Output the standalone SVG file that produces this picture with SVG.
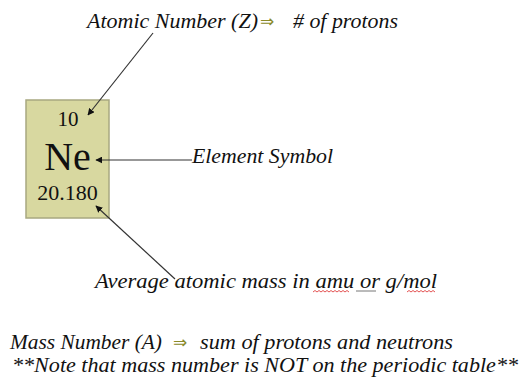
<svg xmlns="http://www.w3.org/2000/svg" width="520" height="379" viewBox="0 0 520 379">
<defs>
<marker id="ah" viewBox="0 0 10 10" refX="9" refY="5" markerWidth="7" markerHeight="7" orient="auto" markerUnits="userSpaceOnUse">
<path d="M0,0 L10,5 L0,10 z" fill="#111"/>
</marker>
</defs>
<rect width="520" height="379" fill="#fff"/>
<g id="element">
<rect x="26" y="100" width="83" height="118" fill="#d8d8a0" stroke="#a8a880" stroke-width="1.5"/>
<text font-family="'Liberation Serif', serif" fill="#111" x="68" y="126" font-size="21" text-anchor="middle">10</text>
<text font-family="'Liberation Serif', serif" fill="#111" x="67.5" y="170" font-size="40" text-anchor="middle">Ne</text>
<text font-family="'Liberation Serif', serif" fill="#111" x="67.5" y="200" font-size="22" text-anchor="middle">20.180</text>
</g>
<g id="atomic-number">
<text font-family="'Liberation Serif', serif" font-style="italic" font-size="21" fill="#111" x="87" y="28" textLength="171" lengthAdjust="spacingAndGlyphs">Atomic Number (Z)</text>
<text font-family="'DejaVu Sans', sans-serif" font-size="17" fill="#8a8a2a" x="260" y="27">⇒</text>
<text font-family="'Liberation Serif', serif" font-style="italic" font-size="21" fill="#111" x="293" y="28" textLength="105" lengthAdjust="spacingAndGlyphs"># of protons</text>
</g>
<g id="element-symbol">
<text font-family="'Liberation Serif', serif" font-style="italic" font-size="21" fill="#111" x="192" y="163" textLength="141" lengthAdjust="spacingAndGlyphs">Element Symbol</text>
</g>
<g id="average-mass">
<text font-family="'Liberation Serif', serif" font-style="italic" font-size="21" fill="#111" x="95" y="288" textLength="342" lengthAdjust="spacingAndGlyphs">Average atomic mass in amu or g/mol</text>
<path d="M356,291 h20" stroke="#777" stroke-width="1" fill="none"/>
<path d="M313,292 l2,-1.5 l2,1.5 l2,-1.5 l2,1.5 l2,-1.5 l2,1.5 l2,-1.5 l2,1.5 l2,-1.5 l2,1.5 l2,-1.5 l2,1.5 l2,-1.5 l2,1.5 l2,-1.5 l2,1.5 l2,-1.5 l2,1.5" stroke="#e04040" stroke-width="0.9" fill="none"/>
<path d="M407,292 l2,-1.5 l2,1.5 l2,-1.5 l2,1.5 l2,-1.5 l2,1.5 l2,-1.5 l2,1.5 l2,-1.5 l2,1.5 l2,-1.5 l2,1.5 l2,-1.5 l2,1.5" stroke="#e04040" stroke-width="0.9" fill="none"/>
</g>
<g id="mass-number">
<text font-family="'Liberation Serif', serif" font-style="italic" font-size="21" fill="#111" x="10" y="349" textLength="152" lengthAdjust="spacingAndGlyphs">Mass Number (A)</text>
<text font-family="'DejaVu Sans', sans-serif" font-size="17" fill="#8a8a2a" x="173" y="348">⇒</text>
<text font-family="'Liberation Serif', serif" font-style="italic" font-size="21" fill="#111" x="200" y="349" textLength="253" lengthAdjust="spacingAndGlyphs">sum of protons and neutrons</text>
<text font-family="'Liberation Serif', serif" font-style="italic" font-size="21" fill="#111" x="12" y="372" textLength="506" lengthAdjust="spacingAndGlyphs">**Note that mass number is NOT on the periodic table**</text>
</g>
<g id="connectors" stroke="#333" stroke-width="1.2" fill="none">
<line x1="153" y1="33" x2="88" y2="115" marker-end="url(#ah)"/>
<line x1="192" y1="160" x2="96" y2="160" marker-end="url(#ah)"/>
<line x1="175" y1="279" x2="96" y2="206" marker-end="url(#ah)"/>
</g>
</svg>
